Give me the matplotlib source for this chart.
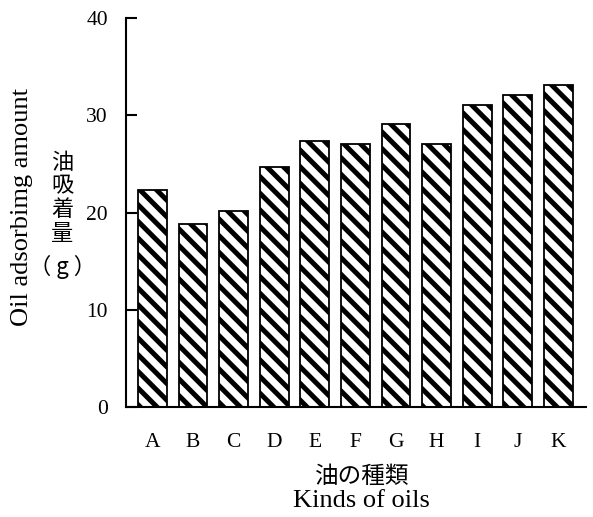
import matplotlib
matplotlib.use("Agg")
import matplotlib.pyplot as plt
import numpy as np

plt.rcParams['font.family'] = ['Liberation Serif', 'Noto Sans CJK JP']
plt.rcParams['hatch.linewidth'] = 3.6

oils = ['A', 'B', 'C', 'D', 'E', 'F', 'G', 'H', 'I', 'J', 'K']
amount = [22.3, 18.8, 20.2, 24.7, 27.4, 27.1, 29.1, 27.1, 31.1, 32.1, 33.1]
yticks = [0, 10, 20, 30, 40]

fig = plt.figure(figsize=(5.93, 5.17), dpi=100)
ax = fig.add_axes([0.2125, 0.2128, 0.7755, 0.7522])

x = np.arange(len(oils))
ax.bar(x, amount, width=0.71, color='white', edgecolor='black',
       linewidth=1.3, hatch='\\\\')

ax.set_xlim(-0.65, 10.68)
ax.set_ylim(0, 40)
ax.set_yticks(yticks)
ax.set_xticks(x)
ax.set_xticklabels(oils)

for s in ['top', 'right']:
    ax.spines[s].set_visible(False)
for s in ['left', 'bottom']:
    ax.spines[s].set_linewidth(1.5)

ax.tick_params(axis='y', direction='in', length=8, width=1.5, pad=13, labelsize=15.5)
ax.tick_params(axis='x', length=0, pad=19, labelsize=15.5)

cjk = ['Noto Sans CJK JP', 'DejaVu Sans']
fig.text(0.037, 0.60, 'Oil adsorbimg amount', rotation=90, fontsize=19,
         ha='center', va='center')
fig.text(0.105, 0.617, '油\n吸\n着\n量', fontsize=16, family=cjk,
         ha='center', va='center', linespacing=1.05)
fig.text(0.105, 0.483, '（ g ）', fontsize=16, family=cjk,
         ha='center', va='center')
fig.text(0.61, 0.079, '油の種類', fontsize=17, family=cjk,
         ha='center', va='center')
fig.text(0.61, 0.031, 'Kinds of oils', fontsize=19,
         ha='center', va='center')

fig.savefig('out.png', dpi=100)
